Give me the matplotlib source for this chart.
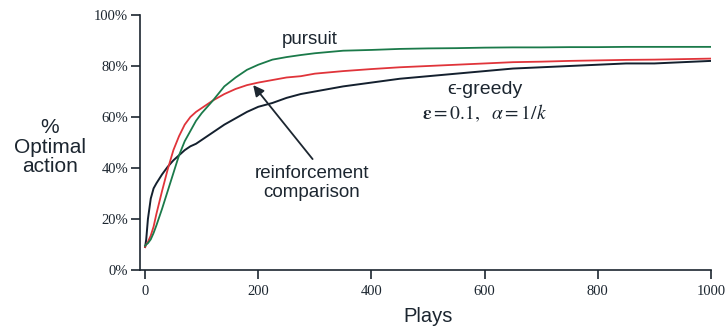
import matplotlib
matplotlib.use("Agg")
import matplotlib.pyplot as plt

plays = [0, 2, 5, 10, 15, 20, 30, 40, 50, 60, 70, 80, 90, 100, 120, 140, 160, 180, 200,
         225, 250, 275, 300, 350, 400, 450, 500, 550, 600, 650, 700, 750, 800, 850, 900, 950, 1000]

eps_greedy = [9, 12, 20, 28, 32, 34, 37.5, 40.5, 43, 45, 47, 48.5, 49.5, 51, 54, 57, 59.5, 62, 64,
              65.5, 67.5, 69, 70, 72, 73.5, 75, 76, 77, 78, 79, 79.5, 80, 80.5, 81, 81, 81.5, 82]
reinf_comp = [9, 10, 11, 13.5, 17, 22, 31, 39.5, 47, 52.5, 57, 60, 62, 63.5, 66.5, 69, 71, 72.5, 73.5,
              74.5, 75.5, 76, 77, 78, 78.8, 79.5, 80, 80.5, 81, 81.5, 81.7, 82, 82.2, 82.4, 82.5, 82.7, 82.9]
pursuit = [9.5, 10, 10.5, 12, 14.5, 17.5, 24, 31, 38, 45, 50.5, 54.5, 58.5, 61.5, 66.5, 72, 75.5, 78.5, 80.5,
           82.5, 83.5, 84.3, 85, 86, 86.3, 86.7, 86.9, 87, 87.2, 87.3, 87.3, 87.4, 87.4, 87.5, 87.5, 87.5, 87.5]

x_ticks = [0, 200, 400, 600, 800, 1000]
y_ticks = [0, 20, 40, 60, 80, 100]
y_ticklabels = ["0%", "20%", "40%", "60%", "80%", "100%"]

TXT = "#1c2630"
plt.rcParams['mathtext.fontset'] = 'stix'

fig = plt.figure(figsize=(7.28, 3.28), dpi=100)
ax = fig.add_axes([140/728, 58/328, 571/728, 255/328])

ax.plot(plays, eps_greedy, color="#14202e", lw=1.4)
ax.plot(plays, reinf_comp, color="#e0343a", lw=1.3)
ax.plot(plays, pursuit, color="#1b7a4a", lw=1.3)

ax.set_xlim(-9, 1000)
ax.set_ylim(0, 100)
ax.set_xticks(x_ticks)
ax.set_yticks(y_ticks)
ax.set_yticklabels(y_ticklabels)
for s in ("top", "right"):
    ax.spines[s].set_visible(False)
for s in ("left", "bottom"):
    ax.spines[s].set_color(TXT)
    ax.spines[s].set_linewidth(1.2)
ax.tick_params(axis="both", direction="out", length=6.5, width=1.2, color=TXT,
               labelsize=10.5, labelcolor=TXT)
ax.tick_params(axis="y", pad=2)
ax.tick_params(axis="x", pad=4)
for lab in ax.get_xticklabels() + ax.get_yticklabels():
    lab.set_fontfamily("Liberation Serif")

sans = ["Liberation Sans", "DejaVu Sans"]
ax.text(291, 90.2, "pursuit", ha="center", va="center", fontsize=13.5, family=sans, color=TXT)
ax.text(295, 34, "reinforcement\ncomparison", ha="center", va="center", fontsize=13.5,
        family=sans, color=TXT, linespacing=1.15)
ax.text(600, 70.6, "\u03f5-greedy", ha="center", va="center", fontsize=14, family=sans, color=TXT)
ax.text(600, 61.6, r"$\mathbf{\epsilon} = 0.1,\ \ \alpha = 1/k$", ha="center", va="center",
        fontsize=14, color=TXT)
ax.annotate("", xy=(191, 72.5), xytext=(296, 43.5),
            arrowprops=dict(arrowstyle="-|>", color=TXT, lw=1.3, mutation_scale=16,
                            shrinkA=0, shrinkB=0))

fig.text(50/728, 1 - 147/328, "%\nOptimal\naction", ha="center", va="center", fontsize=15,
         family=sans, color=TXT, linespacing=1.05)
fig.text(428/728, 1 - 317/328, "Plays", ha="center", va="center", fontsize=14.5,
         family=sans, color=TXT)

fig.savefig("out.png", dpi=100)
